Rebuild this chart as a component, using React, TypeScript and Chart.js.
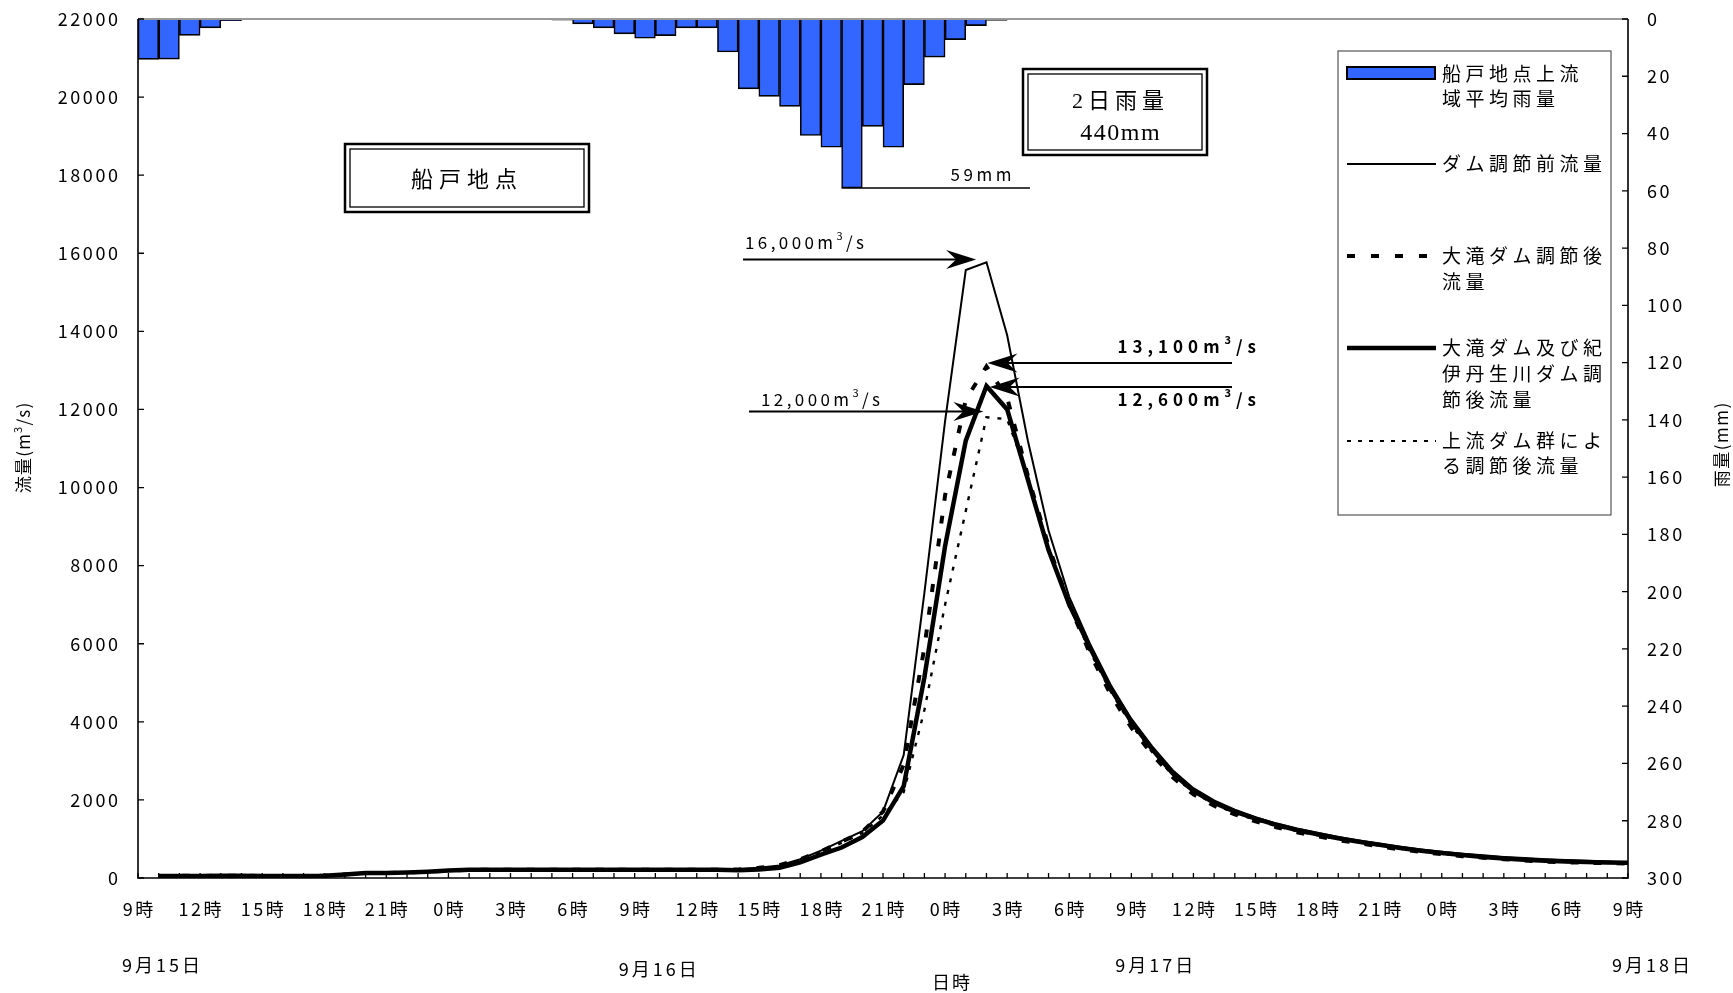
import React, { useEffect, useRef } from "react";
import { Chart, registerables } from "chart.js";

Chart.register(...registerables);

// ---------- data ----------
// rain bars: one value per hour, bar i covers hour i..i+1 from 9/15 9時
const RAIN = [
  14.1, 14.0, 5.7, 3.1, 0.6,
  null, null, null, null, null, null, null, null, null, null, null, null, null, null, null,
  0.4, 1.7, 3.1, 5.2, 6.7, 5.8, 3.1, 3.1, 11.5, 24.4, 27.0, 30.5, 40.7, 44.8, 59.0, 37.5, 44.8, 22.9, 13.3, 7.2, 2.3, 0.5,
  null, null, null, null, null, null, null, null, null, null, null, null, null, null, null,
  null, null, null, null, null, null, null, null, null, null, null, null, null, null, null,
];

// flows at hours 1..72 after 9/15 9時
const FLOW_BEFORE = [
  50, 50, 50, 60, 60, 50, 50, 50, 60,
  90, 130, 130, 140, 160, 190,
  210, 210, 210, 210, 210, 210, 210, 210, 210, 210, 210, 210, 210,
  230, 260, 320, 480, 700, 950, 1200, 1700, 3150, 7300, 11700, 15570, 15770, 13900, 11200, 8900, 7200,
  6000, 4950, 4080, 3380, 2760, 2300, 1990, 1750, 1560, 1400, 1270, 1160, 1050, 960, 880, 800,
  730, 670, 620, 580, 540, 510, 480, 460, 440, 420, 400,
];
const FLOW_OTAKI = [
  50, 60, 50, 60, 60, 50, 50, 50, 60,
  90, 130, 130, 140, 160, 190,
  210, 210, 210, 210, 210, 210, 210, 210, 210, 210, 210, 210, 210,
  220, 260, 330, 480, 680, 930, 1180, 1700, 2900, 5900, 9800, 12250, 13100, 12300, 10300, 8500, 7000,
  5750, 4700, 3850, 3170, 2580, 2140, 1850, 1630, 1450, 1300, 1170, 1070, 970, 890, 810, 730,
  670, 610, 560, 520, 480, 450, 420, 400, 390, 380, 370,
];
const FLOW_BOTH = [
  50, 50, 50, 60, 60, 50, 50, 50, 60,
  90, 130, 130, 140, 160, 190,
  210, 210, 210, 210, 210, 210, 210, 210, 210, 210, 210, 210, 210,
  200, 220, 260, 400, 600, 780, 1050, 1470, 2350, 5140, 8500, 11200, 12600, 12000, 10200, 8400, 7000,
  5900, 4850, 4000, 3300, 2680, 2230, 1930, 1700, 1520, 1360, 1230, 1120, 1020, 930, 850, 770,
  700, 640, 590, 540, 500, 470, 440, 420, 410, 400, 390,
];
const FLOW_UPSTREAM = [
  50, 50, 50, 60, 60, 50, 50, 50, 60,
  90, 130, 130, 140, 160, 190,
  210, 210, 210, 210, 210, 210, 210, 210, 210, 210, 210, 210, 210,
  200, 230, 290, 450, 660, 900, 1150, 1600, 2200, 4300, 7000, 9400, 11800, 11750, 10300, 8400, 7000,
  5800, 4780, 3920, 3230, 2630, 2190, 1890, 1660, 1490, 1330, 1200, 1090, 990, 910, 830, 750,
  680, 620, 570, 530, 490, 460, 430, 410, 400, 390, 380,
];

const X_TICK_LABELS = [
  "9時", "12時", "15時", "18時", "21時", "0時", "3時", "6時",
  "9時", "12時", "15時", "18時", "21時", "0時", "3時", "6時",
  "9時", "12時", "15時", "18時", "21時", "0時", "3時", "6時", "9時",
];
const DATE_LABELS = ["9月15日", "9月16日", "9月17日", "9月18日"];
const LEFT_TICKS = [0, 2000, 4000, 6000, 8000, 10000, 12000, 14000, 16000, 18000, 20000, 22000];
const RIGHT_TICKS = [0, 20, 40, 60, 80, 100, 120, 140, 160, 180, 200, 220, 240, 260, 280, 300];

const SERIES_NAMES = ["船戸地点上流域平均雨量", "ダム調節前流量", "大滝ダム調節後流量", "大滝ダム及び紀伊丹生川ダム調節後流量", "上流ダム群による調節後流量"];

const JP = "'Noto Sans CJK JP', 'Noto Sans', sans-serif";

// ---------- drawing helpers ----------
function charsWidth(ctx: CanvasRenderingContext2D, text: string, spacing: number) {
  let w = 0;
  const chars = Array.from(text);
  chars.forEach((c, i) => {
    w += ctx.measureText(c).width + (i < chars.length - 1 ? spacing : 0);
  });
  return w;
}

type Seg = { t: string; font: string; dy?: number };

function drawSegs(ctx: CanvasRenderingContext2D, segs: Seg[], x: number, y: number, spacing: number, align: "left" | "center" | "right") {
  let total = 0;
  segs.forEach((s, si) => {
    ctx.font = s.font;
    total += charsWidth(ctx, s.t, spacing) + (si < segs.length - 1 ? spacing : 0);
  });
  let cx = align === "left" ? x : align === "center" ? x - total / 2 : x - total;
  ctx.textAlign = "left";
  ctx.textBaseline = "middle";
  segs.forEach((s) => {
    ctx.font = s.font;
    for (const c of Array.from(s.t)) {
      ctx.fillText(c, cx, y + (s.dy || 0));
      cx += ctx.measureText(c).width + spacing;
    }
  });
  return total;
}

function drawText(ctx: CanvasRenderingContext2D, text: string, x: number, y: number, font: string, spacing: number, align: "left" | "center" | "right") {
  return drawSegs(ctx, [{ t: text, font }], x, y, spacing, align);
}

function arrowHead(ctx: CanvasRenderingContext2D, tx: number, ty: number, dir: number) {
  const L = 30, W = 9.5, N = 20;
  ctx.beginPath();
  ctx.moveTo(tx, ty);
  ctx.lineTo(tx - dir * L, ty - W);
  ctx.lineTo(tx - dir * N, ty);
  ctx.lineTo(tx - dir * L, ty + W);
  ctx.closePath();
  ctx.fill();
}

function arrow(ctx: CanvasRenderingContext2D, x1: number, y1: number, x2: number, y2: number) {
  ctx.beginPath();
  ctx.moveTo(x1, y1);
  const dir = x2 > x1 ? 1 : -1;
  ctx.lineTo(x2 - dir * 15, y2);
  ctx.lineWidth = 2;
  ctx.stroke();
  arrowHead(ctx, x2, y2, dir);
}

function doubleBox(ctx: CanvasRenderingContext2D, x1: number, y1: number, x2: number, y2: number) {
  ctx.fillStyle = "#fff";
  ctx.fillRect(x1, y1, x2 - x1, y2 - y1);
  ctx.strokeStyle = "#000";
  ctx.lineWidth = 2.5;
  ctx.strokeRect(x1, y1, x2 - x1, y2 - y1);
  ctx.lineWidth = 1.3;
  ctx.strokeRect(x1 + 5, y1 + 5, x2 - x1 - 10, y2 - y1 - 10);
  ctx.fillStyle = "#000";
}

const overlayPlugin = {
  id: "overlay",
  afterDraw(chart: any) {
    const ctx: CanvasRenderingContext2D = chart.ctx;
    const xs = chart.scales.x;
    const yl = chart.scales.y;
    const yr = chart.scales.y2;
    const a = chart.chartArea;
    ctx.save();
    ctx.fillStyle = "#000";
    ctx.strokeStyle = "#000";

    // frame
    ctx.lineWidth = 2;
    ctx.strokeStyle = "#999";
    ctx.beginPath();
    ctx.moveTo(a.left, a.top);
    ctx.lineTo(a.right, a.top);
    ctx.stroke();
    ctx.strokeStyle = "#000";
    ctx.lineWidth = 1.6;
    ctx.beginPath();
    ctx.moveTo(a.left, a.top);
    ctx.lineTo(a.left, a.bottom);
    ctx.lineTo(a.right, a.bottom);
    ctx.lineTo(a.right, a.top);
    ctx.stroke();

    // inward ticks
    ctx.lineWidth = 1.3;
    ctx.beginPath();
    for (let h = 0; h <= 72; h++) {
      const x = xs.getPixelForValue(h);
      ctx.moveTo(x, a.bottom);
      ctx.lineTo(x, a.bottom - 5);
    }
    LEFT_TICKS.forEach((v) => {
      const y = yl.getPixelForValue(v);
      ctx.moveTo(a.left, y);
      ctx.lineTo(a.left + 6, y);
    });
    RIGHT_TICKS.forEach((v) => {
      const y = yr.getPixelForValue(v);
      ctx.moveTo(a.right, y);
      ctx.lineTo(a.right - 6, y);
    });
    ctx.stroke();

    // tick labels
    const tickFont = `18px ${JP}`;
    LEFT_TICKS.forEach((v) => {
      drawText(ctx, String(v), a.left - 20, yl.getPixelForValue(v), tickFont, 2.6, "right");
    });
    RIGHT_TICKS.forEach((v) => {
      drawText(ctx, String(v), a.right + 19, yr.getPixelForValue(v), tickFont, 2.6, "left");
    });
    X_TICK_LABELS.forEach((lab, i) => {
      drawText(ctx, lab, xs.getPixelForValue(i * 3), 909, tickFont, 2.5, "center");
    });
    DATE_LABELS.forEach((lab, i) => {
      drawText(ctx, lab, xs.getPixelForValue(i * 24) - 16, i === 1 ? 969 : 965, tickFont, 3, "left");
    });
    drawText(ctx, "日時", (a.left + a.right) / 2 + 68, 982, tickFont, 2, "center");

    // axis titles
    ctx.save();
    ctx.translate(24, 448);
    ctx.rotate(-Math.PI / 2);
    drawSegs(ctx, [
      { t: "流量(m", font: `17px ${JP}` },
      { t: "3", font: `11px ${JP}`, dy: -6 },
      { t: "/s)", font: `17px ${JP}` },
    ], 0, 0, 1.2, "center");
    ctx.restore();
    ctx.save();
    ctx.translate(1722, 445);
    ctx.rotate(-Math.PI / 2);
    drawText(ctx, "雨量(mm)", 0, 0, `17px ${JP}`, 1.5, "center");
    ctx.restore();

    // legend box
    ctx.lineWidth = 1.2;
    ctx.strokeStyle = "#555";
    ctx.strokeRect(1338, 51, 1611 - 1338, 515 - 51);
    ctx.strokeStyle = "#000";
    ctx.fillStyle = "#3366FF";
    ctx.fillRect(1347, 67, 88, 12);
    ctx.lineWidth = 2;
    ctx.strokeRect(1347, 67, 88, 12);
    ctx.fillStyle = "#000";
    const lf = `19px ${JP}`;
    const ls = 4.5;
    drawText(ctx, "船戸地点上流", 1442, 74, lf, ls, "left");
    drawText(ctx, "域平均雨量", 1442, 99, lf, ls, "left");
    const legLine = (y: number, w: number, dash: number[]) => {
      ctx.beginPath();
      ctx.setLineDash(dash);
      ctx.lineWidth = w;
      ctx.moveTo(1347, y);
      ctx.lineTo(1436, y);
      ctx.stroke();
      ctx.setLineDash([]);
    };
    legLine(164, 2, []);
    drawText(ctx, "ダム調節前流量", 1442, 164, lf, ls, "left");
    legLine(256, 4, [8, 16]);
    drawText(ctx, "大滝ダム調節後", 1442, 256, lf, ls, "left");
    drawText(ctx, "流量", 1442, 282, lf, ls, "left");
    legLine(348, 4.5, []);
    drawText(ctx, "大滝ダム及び紀", 1442, 348, lf, ls, "left");
    drawText(ctx, "伊丹生川ダム調", 1442, 374, lf, ls, "left");
    drawText(ctx, "節後流量", 1442, 400, lf, ls, "left");
    legLine(441, 2.2, [4, 7]);
    drawText(ctx, "上流ダム群によ", 1442, 441, lf, ls, "left");
    drawText(ctx, "る調節後流量", 1442, 466, lf, ls, "left");

    // boxes
    doubleBox(ctx, 345, 144, 589, 212);
    drawText(ctx, "船戸地点", 464, 179, `22px ${JP}`, 6, "center");
    doubleBox(ctx, 1023, 69, 1207, 155);
    drawText(ctx, "2日雨量", 1118, 102, `22px 'Liberation Serif', ${JP}`, 5, "center");
    drawText(ctx, "440mm", 1120, 134, `24px 'Liberation Serif', serif`, 1.5, "center");

    // 59mm marker
    ctx.lineWidth = 1.5;
    ctx.beginPath();
    const barLeft = xs.getPixelForValue(34);
    const barBottom = yr.getPixelForValue(59);
    ctx.moveTo(barLeft, barBottom);
    ctx.lineTo(1030, barBottom);
    ctx.stroke();
    drawText(ctx, "59mm", 981, 175, `17px ${JP}`, 3.5, "center");

    // peak arrows
    const nf = `17px ${JP}`;
    const sf = `11px ${JP}`;
    drawSegs(ctx, [{ t: "16,000m", font: nf }, { t: "3", font: sf, dy: -7 }, { t: "/s", font: nf }], 745, 243, 3.4, "left");
    arrow(ctx, 743, 259.5, xs.getPixelForValue(40.5), 259.5);
    drawSegs(ctx, [{ t: "12,000m", font: nf }, { t: "3", font: sf, dy: -7 }, { t: "/s", font: nf }], 761, 400, 3.4, "left");
    arrow(ctx, 749, 411.5, xs.getPixelForValue(40.85), 411.5);
    const bf = `bold 17px ${JP}`;
    const bsf = `bold 11px ${JP}`;
    drawSegs(ctx, [{ t: "13,100m", font: bf }, { t: "3", font: bsf, dy: -7 }, { t: "/s", font: bf }], 1256, 347, 5, "right");
    arrow(ctx, 1232, 363, xs.getPixelForValue(41.05), 363);
    drawSegs(ctx, [{ t: "12,600m", font: bf }, { t: "3", font: bsf, dy: -7 }, { t: "/s", font: bf }], 1256, 400, 5, "right");
    arrow(ctx, 1232, 387, xs.getPixelForValue(41.15), 387);

    ctx.restore();
  },
};

export default function App() {
  const ref = useRef<HTMLCanvasElement | null>(null);
  useEffect(() => {
    document.body.style.margin = "0";
    const canvas = ref.current;
    if (!canvas) return;
    const flowPts = (arr: number[]) => arr.map((v, i) => ({ x: i + 1, y: v }));
    const chart = new Chart(canvas, {
      type: "line",
      data: {
        datasets: [
          {
            type: "bar",
            label: SERIES_NAMES[0],
            data: RAIN.map((v, i) => ({ x: i + 0.5, y: v })) as any,
            yAxisID: "y2",
            backgroundColor: "#3366FF",
            borderColor: "#000",
            borderWidth: 1.6,
            barPercentage: 1,
            categoryPercentage: 1,
            order: 10,
          } as any,
          {
            label: SERIES_NAMES[1],
            data: flowPts(FLOW_BEFORE),
            yAxisID: "y",
            borderColor: "#000",
            borderWidth: 2,
            pointRadius: 0,
            tension: 0,
            fill: false,
            order: 1,
          },
          {
            label: SERIES_NAMES[2],
            data: flowPts(FLOW_OTAKI),
            yAxisID: "y",
            borderColor: "#000",
            borderWidth: 4,
            borderDash: [8, 15],
            pointRadius: 0,
            tension: 0,
            fill: false,
            order: 2,
          },
          {
            label: SERIES_NAMES[3],
            data: flowPts(FLOW_BOTH),
            yAxisID: "y",
            borderColor: "#000",
            borderWidth: 4.5,
            pointRadius: 0,
            tension: 0,
            fill: false,
            order: 3,
          },
          {
            label: SERIES_NAMES[4],
            data: flowPts(FLOW_UPSTREAM),
            yAxisID: "y",
            borderColor: "#000",
            borderWidth: 2.4,
            borderDash: [4, 8],
            pointRadius: 0,
            tension: 0,
            fill: false,
            order: 4,
          },
        ],
      },
      options: {
        responsive: false,
        animation: false,
        devicePixelRatio: 1,
        layout: { padding: { top: 19, left: 0, right: 0, bottom: 0 } },
        plugins: { legend: { display: false }, tooltip: { enabled: false } },
        events: [],
        scales: {
          x: {
            type: "linear",
            min: 0,
            max: 72,
            offset: false,
            grid: { display: false, drawTicks: false },
            border: { display: false },
            ticks: { display: false, stepSize: 3 },
            afterFit: (s: any) => { s.height = 115; },
          },
          y: {
            type: "linear",
            position: "left",
            min: 0,
            max: 22000,
            grid: { display: false, drawTicks: false },
            border: { display: false },
            ticks: { display: false, stepSize: 2000 },
            afterFit: (s: any) => { s.width = 138; },
          },
          y2: {
            type: "linear",
            position: "right",
            min: 0,
            max: 300,
            reverse: true,
            grid: { display: false, drawTicks: false },
            border: { display: false },
            ticks: { display: false, stepSize: 20 },
            afterFit: (s: any) => { s.width = 105; },
          },
        } as any,
      },
      plugins: [overlayPlugin],
    });
    return () => chart.destroy();
  }, []);
  return (
    <div style={{ width: 1733, height: 993, background: "#fff" }}>
      <canvas ref={ref} width={1733} height={993} style={{ display: "block", width: 1733, height: 993 }} />
    </div>
  );
}
